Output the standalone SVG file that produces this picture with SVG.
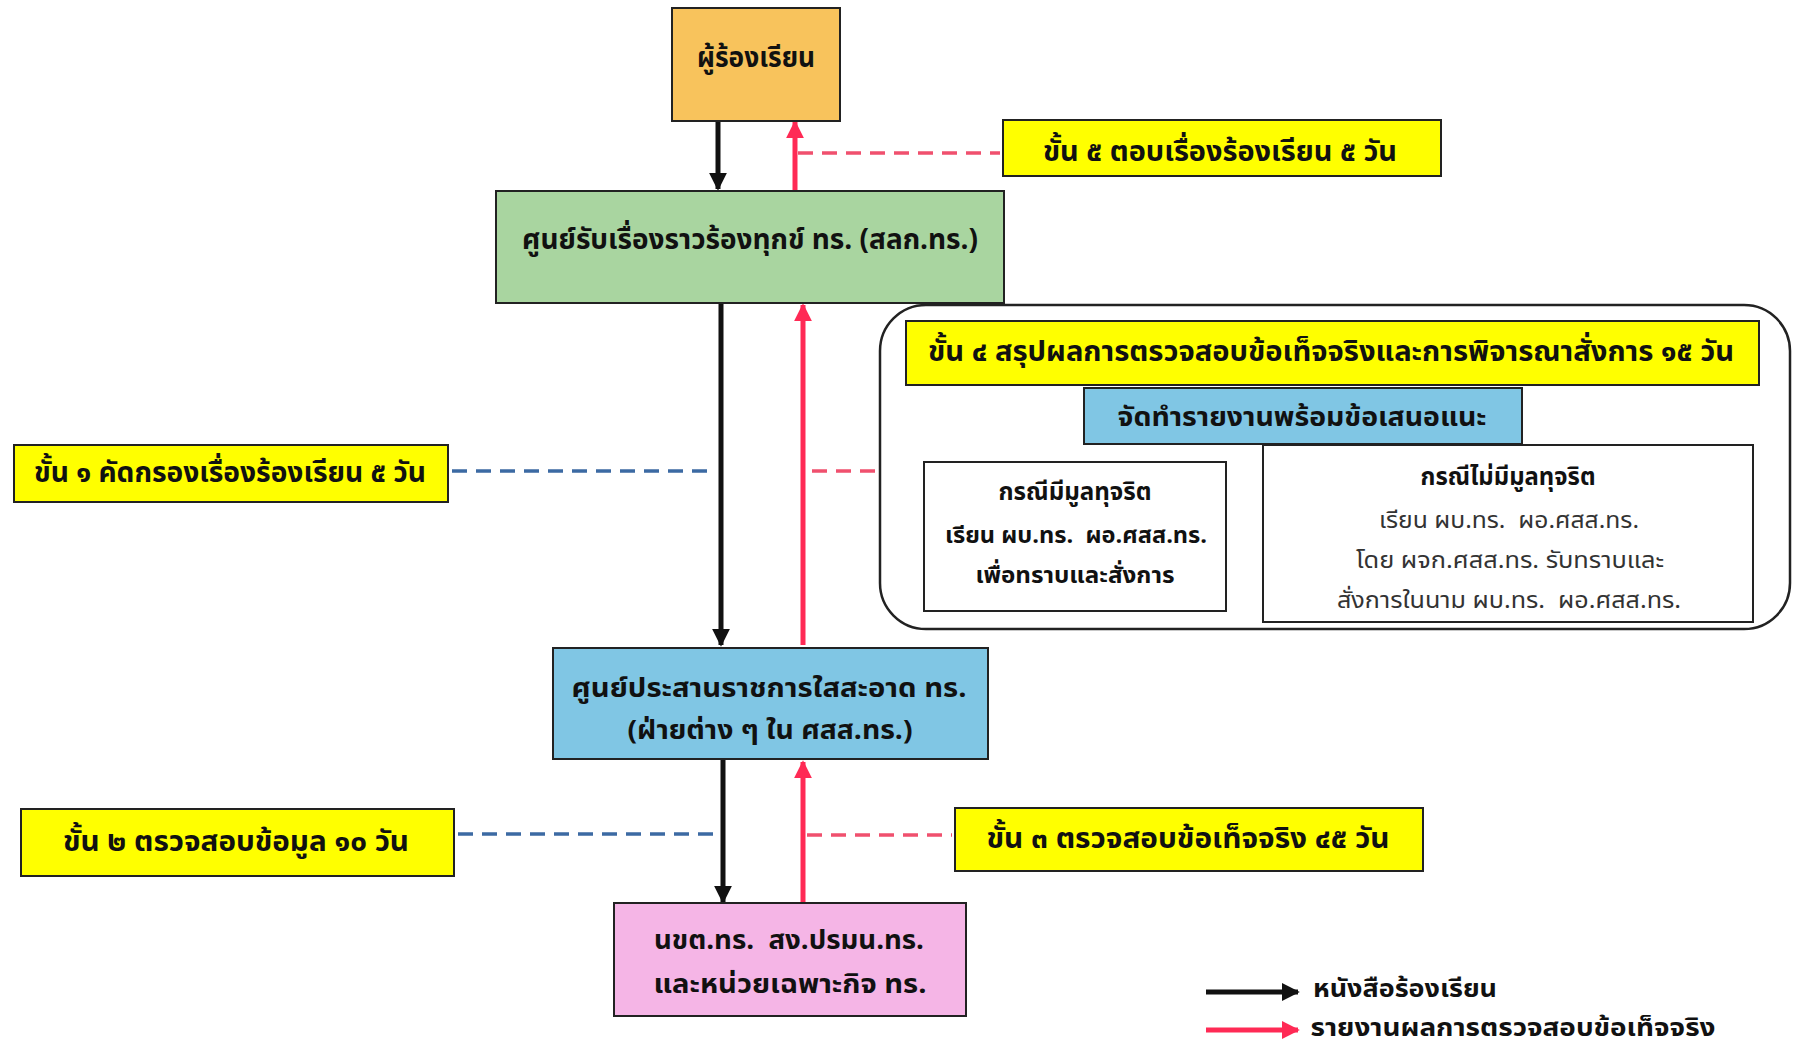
<svg xmlns="http://www.w3.org/2000/svg" width="1797" height="1048" viewBox="0 0 1797 1048">
<style>
text{font-family:"Noto Sans Thai","Loma","Garuda","Tahoma","DejaVu Sans",sans-serif;text-anchor:middle;dominant-baseline:central;fill:#111}
.b{font-weight:bold}
.box{stroke:#222;stroke-width:2}
.ylw{fill:#ffff00}
.blk{stroke:#111;stroke-width:5;fill:none}
.red{stroke:#ff2a55;stroke-width:5;fill:none}
.bd{stroke:#3c6aa3;stroke-width:3.5;stroke-dasharray:15 9;fill:none}
.rd{stroke:#f0506e;stroke-width:3.5;stroke-dasharray:15 9;fill:none}
.lt{fill:#333}
</style>
<defs>
<marker id="ab" viewBox="0 0 10 10" refX="9" refY="5" markerWidth="3.6" markerHeight="3.6" markerUnits="strokeWidth" orient="auto"><path d="M0,0L10,5L0,10z" fill="#111"/></marker>
<marker id="ar" viewBox="0 0 10 10" refX="9" refY="5" markerWidth="3.6" markerHeight="3.6" markerUnits="strokeWidth" orient="auto"><path d="M0,0L10,5L0,10z" fill="#ff2a55"/></marker>
</defs>
<rect width="1797" height="1048" fill="#fff"/>

<g id="connectors">
<line class="blk" x1="718" y1="121" x2="718" y2="189" marker-end="url(#ab)"/>
<line class="red" x1="795" y1="190" x2="795" y2="122" marker-end="url(#ar)"/>
<line class="rd" x1="798" y1="153" x2="1000" y2="153"/>
<line class="blk" x1="721" y1="304" x2="721" y2="645" marker-end="url(#ab)"/>
<line class="red" x1="803" y1="645" x2="803" y2="305" marker-end="url(#ar)"/>
<line class="bd" x1="452" y1="471" x2="716" y2="471"/>
<line class="rd" x1="812" y1="471" x2="878" y2="471"/>
<line class="blk" x1="723" y1="760" x2="723" y2="902" marker-end="url(#ab)"/>
<line class="red" x1="803" y1="903" x2="803" y2="762" marker-end="url(#ar)"/>
<line class="bd" x1="458" y1="834" x2="718" y2="834"/>
<line class="rd" x1="807" y1="835" x2="952" y2="835"/>
</g>

<g id="n-complainant"><rect class="box" x="672" y="8" width="168" height="113" fill="#f8c35c"/><text class="b" x="756" y="58" font-size="29" textLength="118" lengthAdjust="spacingAndGlyphs">ผู้ร้องเรียน</text></g>

<g id="n-center"><rect class="box" x="496" y="191" width="508" height="112" fill="#a9d5a0"/><text class="b" x="750" y="240" font-size="28" textLength="456" lengthAdjust="spacingAndGlyphs">ศูนย์รับเรื่องราวร้องทุกข์ ทร. (สลก.ทร.)</text></g>

<g id="n-step5"><rect class="box ylw" x="1003" y="120" width="438" height="56"/><text class="b" x="1220" y="152" font-size="28" textLength="354" lengthAdjust="spacingAndGlyphs">ขั้น ๕ ตอบเรื่องร้องเรียน ๕ วัน</text></g>

<g id="n-step4group">
<rect x="880" y="305" width="910" height="324" rx="46" fill="#fff" stroke="#222" stroke-width="2.5"/>
<rect class="box ylw" x="906" y="321" width="853" height="64"/><text class="b" x="1331" y="352" font-size="28" textLength="806" lengthAdjust="spacingAndGlyphs">ขั้น ๔ สรุปผลการตรวจสอบข้อเท็จจริงและการพิจารณาสั่งการ ๑๕ วัน</text>
<rect class="box" x="1084" y="388" width="438" height="56" fill="#80c6e4"/><text class="b" x="1302" y="417" font-size="27" textLength="369" lengthAdjust="spacingAndGlyphs">จัดทำรายงานพร้อมข้อเสนอแนะ</text>
<rect class="box" x="924" y="462" width="302" height="149" fill="#fff"/>
<text class="b" x="1075" y="493" font-size="24" textLength="153" lengthAdjust="spacingAndGlyphs">กรณีมีมูลทุจริต</text>
<text class="b" x="1076" y="536" font-size="23" textLength="262" lengthAdjust="spacingAndGlyphs">เรียน ผบ.ทร.&#160; ผอ.ศสส.ทร.</text>
<text class="b" x="1075" y="576" font-size="23" textLength="199" lengthAdjust="spacingAndGlyphs">เพื่อทราบและสั่งการ</text>
<rect class="box" x="1263" y="445" width="490" height="177" fill="#fff"/>
<text class="b" x="1508" y="478" font-size="24" textLength="175" lengthAdjust="spacingAndGlyphs">กรณีไม่มีมูลทุจริต</text>
<text class="lt" x="1509" y="521" font-size="23" textLength="260" lengthAdjust="spacingAndGlyphs">เรียน ผบ.ทร.&#160; ผอ.ศสส.ทร.</text>
<text class="lt" x="1510" y="561" font-size="23" textLength="308" lengthAdjust="spacingAndGlyphs">โดย ผจก.ศสส.ทร. รับทราบและ</text>
<text class="lt" x="1509" y="601" font-size="23" textLength="344" lengthAdjust="spacingAndGlyphs">สั่งการในนาม ผบ.ทร.&#160; ผอ.ศสส.ทร.</text>
</g>

<g id="n-step1"><rect class="box ylw" x="14" y="445" width="434" height="57"/><text class="b" x="230" y="473" font-size="28" textLength="392" lengthAdjust="spacingAndGlyphs">ขั้น ๑ คัดกรองเรื่องร้องเรียน ๕ วัน</text></g>

<g id="n-transparency"><rect class="box" x="553" y="648" width="435" height="111" fill="#80c6e4"/><text class="b" x="769" y="688" font-size="27" textLength="395" lengthAdjust="spacingAndGlyphs">ศูนย์ประสานราชการใสสะอาด ทร.</text><text class="b" x="770" y="730" font-size="27" textLength="285" lengthAdjust="spacingAndGlyphs">(ฝ่ายต่าง ๆ ใน ศสส.ทร.)</text></g>

<g id="n-step2"><rect class="box ylw" x="21" y="809" width="433" height="67"/><text class="b" x="236" y="842" font-size="28" textLength="346" lengthAdjust="spacingAndGlyphs">ขั้น ๒ ตรวจสอบข้อมูล ๑๐ วัน</text></g>

<g id="n-step3"><rect class="box ylw" x="955" y="808" width="468" height="63"/><text class="b" x="1188" y="839" font-size="28" textLength="403" lengthAdjust="spacingAndGlyphs">ขั้น ๓ ตรวจสอบข้อเท็จจริง ๔๕ วัน</text></g>

<g id="n-units"><rect class="box" x="614" y="903" width="352" height="113" fill="#f5b5e6"/><text class="b" x="789" y="940" font-size="27" textLength="270" lengthAdjust="spacingAndGlyphs">นขต.ทร.&#160; สง.ปรมน.ทร.</text><text class="b" x="790" y="984" font-size="27" textLength="273" lengthAdjust="spacingAndGlyphs">และหน่วยเฉพาะกิจ ทร.</text></g>

<g id="legend">
<line class="blk" x1="1206" y1="992" x2="1298" y2="992" marker-end="url(#ab)"/>
<text class="b" x="1405" y="990" font-size="24" textLength="184" lengthAdjust="spacingAndGlyphs">หนังสือร้องเรียน</text>
<line class="red" x1="1206" y1="1030" x2="1298" y2="1030" marker-end="url(#ar)"/>
<text class="b" x="1513" y="1029" font-size="24" textLength="405" lengthAdjust="spacingAndGlyphs">รายงานผลการตรวจสอบข้อเท็จจริง</text>
</g>
</svg>
